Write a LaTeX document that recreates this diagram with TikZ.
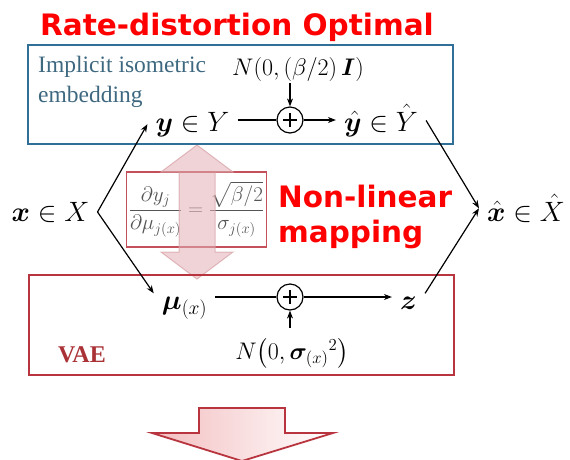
\RequirePackage{fix-cm}
\documentclass[tikz,border=0pt]{standalone}
\usepackage{amsmath,bm}
\usepackage{fontspec}
\newfontfamily\headfont{DejaVu Sans}
\newfontfamily\seriffont{Liberation Serif}
\usetikzlibrary{arrows.meta}

\definecolor{titlered}{RGB}{255,0,0}
\definecolor{boxblue}{RGB}{47,111,152}
\definecolor{isoblue}{RGB}{62,104,128}
\definecolor{boxred}{RGB}{184,52,62}
\definecolor{vaered}{RGB}{170,50,55}
\definecolor{frmred}{RGB}{195,80,90}
\definecolor{frmgray}{RGB}{85,85,85}
\definecolor{pinkarr}{RGB}{225,175,180}
\definecolor{pinkedge}{RGB}{215,160,165}
\definecolor{pinkgrad}{RGB}{243,190,192}

\begin{document}
\begin{tikzpicture}[x=1pt, y=-1pt,
  mth/.style={inner xsep=8pt, inner ysep=3pt, font=\fontsize{28}{32}\selectfont},
  nse/.style={inner sep=2pt, font=\fontsize{24}{28}\selectfont},
  adder/.style={circle, draw, line width=1.2pt, minimum size=26pt, inner sep=0pt,
    path picture={\draw[line width=2.6pt]
      ([xshift=-7pt]path picture bounding box.center) -- ([xshift=7pt]path picture bounding box.center)
      ([yshift=-7pt]path picture bounding box.center) -- ([yshift=7pt]path picture bounding box.center);}},
  arr/.style={-{Stealth[length=8pt, width=6pt]}, line width=1.2pt},
  redhead/.style={font=\headfont\bfseries\fontsize{29.5}{34}\selectfont, text=titlered, inner sep=0pt},
  serifnote/.style={inner sep=0pt, font=\seriffont\fontsize{23.5}{28}\selectfont}]
  \useasboundingbox (0,0) rectangle (570,459);
  % 标题
  \node[redhead, anchor=base west] (title) at (40,35) {Rate-distortion Optimal};
  \node[serifnote, anchor=base west, text=isoblue] (iso) at (38,72) {Implicit isometric};
  \node[serifnote, anchor=base west, text=isoblue] (emb) at (38,102) {embedding};
  % 中间的公式框 + 双向箭头
  \node[draw=frmred, line width=1.2pt, minimum width=133pt, minimum height=75pt, inner sep=2pt,
    text=frmgray, font=\fontsize{21}{24}\selectfont] (frm) at (196.5,209.5)
    {$\displaystyle\frac{\partial y_j}{\partial\mu_{j(x)}}=\frac{\sqrt{\beta/2}}{\sigma_{j(x)}}$};
  \filldraw[fill=pinkarr, draw=pinkedge, fill opacity=0.55, draw opacity=0.7, line width=1pt]
    (197,145) -- (233,172) -- (215,172) -- (215,252) -- (233,252) -- (197,279)
    -- (161,252) -- (179,252) -- (179,172) -- (161,172) -- cycle;
  \node[redhead, anchor=base west] (nonlin) at (278,207) {Non-linear};
  \node[redhead, anchor=base west] (mapping) at (278,242) {mapping};
  % 两个框
  \draw[boxblue, line width=2.6pt] (28,45) rectangle (453,144);
  \draw[boxred, line width=2.6pt] (29,275) rectangle (454,375);
  \node[anchor=base west, inner sep=0pt, text=vaered,
    font=\seriffont\bfseries\fontsize{24}{28}\selectfont] (vae) at (58,362) {VAE};
  % 变量
  \node[mth, anchor=base] (x) at (50.5,221) {$\bm{x}\in X$};
  \node[mth, anchor=base] (xhat) at (526,221) {$\hat{\bm{x}}\in\hat{X}$};
  \node[mth, anchor=base] (y) at (192.5,131) {$\bm{y}\in Y$};
  \node[mth, anchor=base] (yhat) at (381,131) {$\hat{\bm{y}}\in\hat{Y}$};
  \node[adder] (plusT) at (290,120) {};
  \node[nse, anchor=base] (noiseT) at (298,75) {$N(0,(\beta/2)\,\bm{I})$};
  \node[mth, anchor=base] (mu) at (184.5,309) {$\bm{\mu}_{(x)}$};
  \node[adder] (plusB) at (290,297) {};
  \node[mth, anchor=base] (z) at (408.5,309) {$\bm{z}$};
  \node[nse, anchor=base] (noiseB) at (292,359) {$N\bigl(0,\bm{\sigma}_{(x)}{}^2\bigr)$};
  \coordinate (nb) at ([yshift=8pt]noiseB.north);
  % 连线
  \draw[arr] (x.east) -- (y.west);
  \draw[arr] (x.east) -- (mu.north west);
  \draw[arr] (yhat.east) -- (xhat.west);
  \draw[arr] (z.north east) -- (xhat.west);
  \draw[line width=1.2pt] (y.east |- plusT) -- (plusT);
  \draw[arr] (plusT) -- (yhat.west |- plusT);
  \draw[arr] (noiseT.south -| plusT) -- (plusT);
  \draw[line width=1.2pt] (mu.east |- plusB) -- (plusB);
  \draw[arr] (plusB) -- (z.west |- plusB);
  \draw[arr] (nb -| plusB) -- (plusB);
  % 下方的大箭头
  \draw[boxred, line width=1.8pt, left color=pinkgrad, right color=white]
    (199,408) -- (285,408) -- (285,433) -- (333,433) -- (242,461) -- (152,433) -- (199,433) -- cycle;
\end{tikzpicture}
\end{document}
